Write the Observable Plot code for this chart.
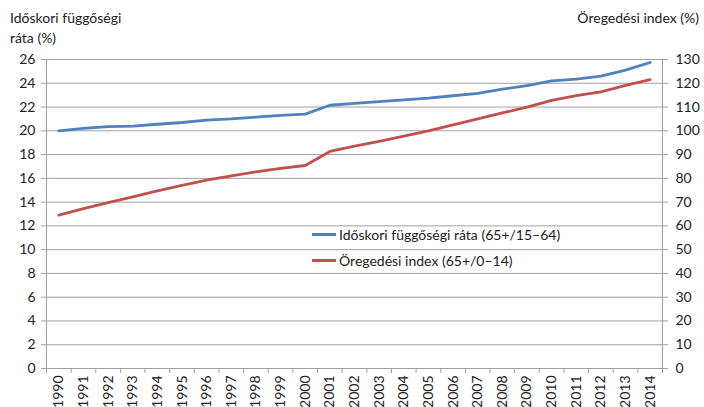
<!DOCTYPE html>
<html>
<head>
<meta charset="utf-8">
<script src="https://cdn.jsdelivr.net/npm/d3@7"></script>
<script src="https://cdn.jsdelivr.net/npm/@observablehq/plot@0.6"></script>
<style>
  body { margin: 0; background: #fff; font-family: Lato, "Open Sans", sans-serif; color: #222; }
  #wrap { position: relative; width: 704px; height: 407px; overflow: hidden; }
  .ttl { position: absolute; font-size: 14px; line-height: 20px; color: #222; }
  .leg { position: absolute; font-size: 14px; color: #222; display: flex; align-items: center; white-space: nowrap; }
  .leg .sw { width: 24px; height: 3px; margin-right: 3px; }
</style>
</head>
<body>
<div id="wrap">
  <div class="ttl" style="left:10px; top:8px;">Időskori függőségi<br>ráta (%)</div>
  <div class="ttl" style="right:5px; top:8px;">Öregedési index (%)</div>
  <div id="chart"></div>
  <div class="leg" style="left:312px; top:226px;"><span class="sw" style="background:#4F81BD"></span>Időskori függőségi ráta (65+/15–64)</div>
  <div class="leg" style="left:312px; top:252px;"><span class="sw" style="background:#C0504D"></span>Öregedési index (65+/0–14)</div>
</div>
<script>
const years = d3.range(1990, 2015);
const dependencyRatio = [20.0, 20.2, 20.35, 20.4, 20.55, 20.7, 20.9, 21.0, 21.15, 21.3, 21.4,
  22.15, 22.3, 22.45, 22.6, 22.75, 22.95, 23.15, 23.5, 23.8, 24.2, 24.35, 24.6, 25.1, 25.75];
const agingIndex = [64.5, 67.3, 69.8, 72.2, 74.7, 77.0, 79.3, 81.0, 82.7, 84.2, 85.4,
  91.3, 93.6, 95.6, 97.8, 100.0, 102.5, 105.0, 107.5, 110.0, 112.8, 114.8, 116.4, 119.1, 121.5];
const leftTicks = d3.range(0, 27, 2);
const ratio = 5; // right axis (0–130) vs left axis (0–26)

const blue = years.map((y, i) => ({year: y, v: dependencyRatio[i]}));
const red = years.map((y, i) => ({year: y, v: agingIndex[i] / ratio}));
const halfYears = d3.range(1989.5, 2015, 1);
const gray = "#a0a0a0";

const chart = Plot.plot({
  width: 704,
  height: 407,
  marginLeft: 46,
  marginRight: 42,
  marginTop: 59,
  marginBottom: 39,
  style: {fontFamily: "Lato, 'Open Sans', sans-serif", fontSize: "14px", color: "#222", background: "transparent"},
  x: {type: "linear", domain: [1989.5, 2014.5], axis: null},
  y: {domain: [0, 26], axis: null},
  marks: [
    Plot.gridY(leftTicks, {stroke: gray, strokeOpacity: 1}),
    Plot.ruleX([1989.5, 2014.5], {stroke: gray}),
    Plot.axisY(leftTicks, {anchor: "left", label: null, tickSize: 5, tickPadding: 6, stroke: gray, fill: "#222", fontSize: 14}),
    Plot.axisY(leftTicks, {anchor: "right", label: null, tickSize: 5, tickPadding: 8, stroke: gray, fill: "#222", fontSize: 14, tickFormat: d => String(d * ratio)}),
    Plot.axisX(halfYears, {anchor: "bottom", label: null, tickSize: 5, stroke: gray, tickFormat: () => ""}),
    Plot.axisX(years, {anchor: "bottom", label: null, tickSize: 0, tickPadding: 7, tickRotate: -90, fill: "#222", fontSize: 14, tickFormat: d => String(d)}),
    Plot.line(red, {x: "year", y: "v", stroke: "#C0504D", strokeWidth: 2.8}),
    Plot.line(blue, {x: "year", y: "v", stroke: "#4F81BD", strokeWidth: 2.8})
  ]
});
document.getElementById("chart").appendChild(chart);
</script>
</body>
</html>
